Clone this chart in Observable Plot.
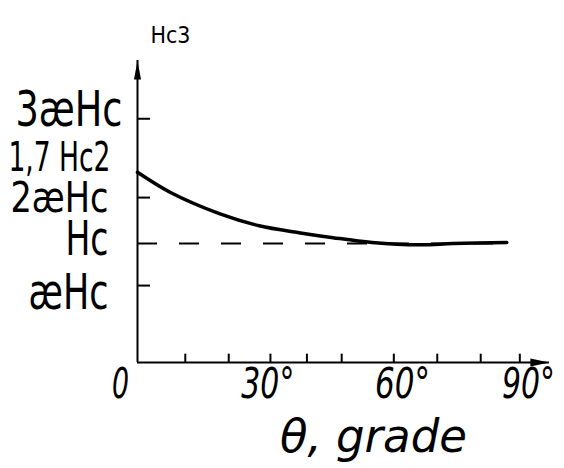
<!DOCTYPE html>
<html>
<head>
<meta charset="utf-8">
<script src="https://cdn.jsdelivr.net/npm/d3@7"></script>
<script src="https://cdn.jsdelivr.net/npm/@observablehq/plot@0.6"></script>
<style>
  html, body { margin: 0; padding: 0; background: #fff; }
</style>
</head>
<body>
<script>
// Curve H_c3(theta), theta in degrees, value in units of Hc
const thetaDeg = [0, 7.6, 19, 28, 37.5, 45, 54, 65, 72.6, 85];
const hc3Value = [1.60, 1.43, 1.25, 1.15, 1.09, 1.05, 1.01, 0.99, 1.0, 1.01];

// Y axis labels (in units of Hc)
const yTickLabels = ["æHc", "Hc", "2æHc", "3æHc"];
const yTickValues = [0.647, 1, 1.387, 2.05];
const startLabel = "1,7 Hc2";
const startValue = 1.60;

// X axis
const xTickLabels = ["0", "30°", "60°", "90°"];
const xTickValues = [0, 30, 61, 90];
const xMinorTicks = [11, 21, 30.6, 39, 47, 59, 69, 79, 88];
const dashedLevel = 1;
const dashedEnd = 85;

const xMax = 94.8, yMax = 2.54;

const data = thetaDeg.map((t, i) => ({theta: t, v: hc3Value[i]}));

const spikeUp = {draw(ctx) { ctx.moveTo(0, 0); ctx.lineTo(3.5, 19); ctx.lineTo(-3.5, 19); ctx.closePath(); }};
const spikeRight = {draw(ctx) { ctx.moveTo(0, 0); ctx.lineTo(-19, -4); ctx.lineTo(-19, 4); ctx.closePath(); }};

const F = "'DejaVu Sans Condensed', 'DejaVu Sans', sans-serif";

// font size, offsets and squeezed width for each label (styling only)
const yLabelStyle = [
  {fs: 50, dx: -29, dy: 7, w: 80},
  {fs: 48, dx: -29, dy: -4, w: 43},
  {fs: 42, dx: -29, dy: 1, w: 98},
  {fs: 50, dx: -15, dy: -9, w: 107}
];
const xLabelWidth = [17, 53, 55, 53];

const chart = Plot.plot({
  width: 564,
  height: 468,
  marginLeft: 137,
  marginRight: 36,
  marginTop: 60,
  marginBottom: 106,
  x: {domain: [0, 90], axis: null},
  y: {domain: [0, yMax], axis: null},
  style: {background: "#fff"},
  marks: [
    // axes
    Plot.ruleX([0], {y1: 0, y2: yMax, stroke: "#000", strokeWidth: 2}),
    Plot.ruleY([0], {x1: 0, x2: xMax, stroke: "#000", strokeWidth: 2}),
    Plot.dot([{x: 0, y: yMax}], {x: "x", y: "y", symbol: spikeUp, r: 1, fill: "#000", stroke: "none"}),
    Plot.dot([{x: xMax, y: 0}], {x: "x", y: "y", symbol: spikeRight, r: 1, fill: "#000", stroke: "none"}),
    // ticks
    Plot.ruleY(yTickValues.filter((v, i) => yTickLabels[i] !== "Hc"), {y: d => d, x1: 0, x2: 3, stroke: "#000", strokeWidth: 2}),
    Plot.ruleX(xMinorTicks, {x: d => d, y1: 0, y2: 0.07, stroke: "#000", strokeWidth: 2}),
    // dashed Hc level
    Plot.ruleY([dashedLevel], {x1: 0, x2: dashedEnd, stroke: "#000", strokeWidth: 2, strokeDasharray: "20,22"}),
    // curve
    Plot.line(data, {x: "theta", y: "v", curve: "catmull-rom", stroke: "#000", strokeWidth: 3.5}),
    // y labels
    ...yTickLabels.map((t, i) => Plot.text([t], {
      x: 0, y: yTickValues[i], text: d => d, textAnchor: "end",
      dx: yLabelStyle[i].dx, dy: yLabelStyle[i].dy,
      fontSize: yLabelStyle[i].fs, fontFamily: F, fill: "#000",
      ariaDescription: String(yLabelStyle[i].w)
    })),
    Plot.text([startLabel], {x: 0, y: startValue, text: d => d, textAnchor: "end", dx: -27, dy: -14, fontSize: 40, fontFamily: F, fill: "#000", ariaDescription: "102"}),
    Plot.text(["Hc3"], {x: 0, y: yMax, text: d => d, textAnchor: "start", dx: 13, dy: -25, fontSize: 23, fontFamily: F, fill: "#000", ariaDescription: "40"}),
    // x labels
    ...xTickLabels.map((t, i) => Plot.text([t], {
      x: xTickValues[i], y: 0, text: d => d, dx: i === 0 ? -17 : 0, dy: 22,
      fontSize: 42, fontFamily: F, fontStyle: "italic", fill: "#000",
      ariaDescription: String(xLabelWidth[i])
    })),
    Plot.text(["θ, grade"], {x: 54.3, y: 0, text: d => d, dy: 75, fontSize: 46, fontFamily: F, fontStyle: "italic", fill: "#000", ariaDescription: "187"})
  ]
});
document.body.appendChild(chart);
// squeeze labels horizontally to the hand-lettered widths
d3.select(chart).selectAll("g[aria-description]").each(function() {
  const w = +this.getAttribute("aria-description");
  d3.select(this).selectAll("text").attr("textLength", w).attr("lengthAdjust", "spacingAndGlyphs");
});
</script>
</body>
</html>
